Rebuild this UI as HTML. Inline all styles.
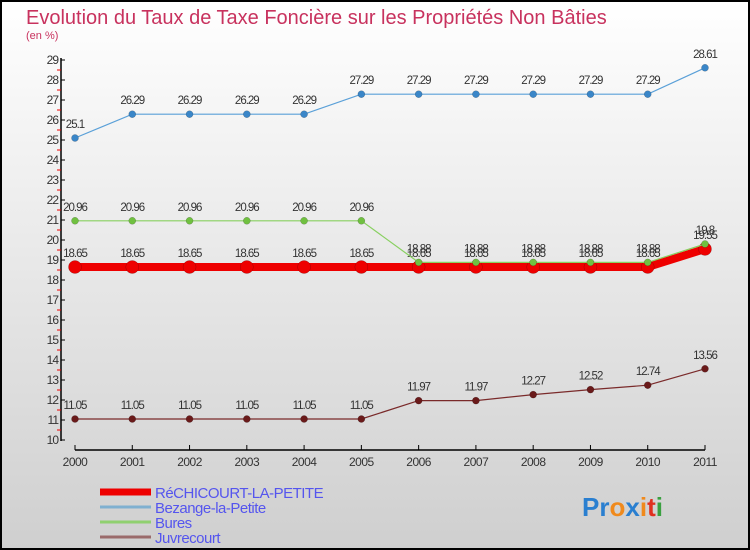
<!DOCTYPE html>
<html><head><meta charset="utf-8"><style>
body{margin:0;}
svg{display:block;font-family:"Liberation Sans",sans-serif;}
</style></head><body>
<svg id="c" width="750" height="550" xmlns="http://www.w3.org/2000/svg">
<defs><linearGradient id="bg" x1="0" y1="0" x2="0" y2="1"><stop offset="0" stop-color="#ffffff"/><stop offset="1" stop-color="#cfcfcf"/></linearGradient></defs>
<rect x="1" y="1" width="748" height="548" fill="url(#bg)" stroke="#000" stroke-width="2"/>
<text x="26" y="24" font-size="20" fill="#c8325e">Evolution du Taux de Taxe Foncière sur les Propriétés Non Bâties</text>
<text x="26" y="39" font-size="11" fill="#c8325e">(en %)</text>
<g id="axes"></g><g id="series"></g><g id="legend"></g>
<text x="582" y="516" font-size="26" font-weight="bold"><tspan fill="#2a7fd0">Pr</tspan><tspan fill="#f08a1c">o</tspan><tspan fill="#2a7fd0">x</tspan><tspan fill="#f08a1c">i</tspan><tspan fill="#e03020">t</tspan><tspan fill="#3aa040">i</tspan></text>
</svg>
<script>
const years=[2000,2001,2002,2003,2004,2005,2006,2007,2008,2009,2010,2011];
const reLabels=["18.65","18.65","18.65","18.65","18.65","18.65","18.65","18.65","18.65","18.65","18.65","19.55"];
const reVals=[18.65,18.65,18.65,18.65,18.65,18.65,18.65,18.65,18.65,18.65,18.65,19.55];
const bezVals=[25.1,26.29,26.29,26.29,26.29,27.29,27.29,27.29,27.29,27.29,27.29,28.61];
const buresVals=[20.96,20.96,20.96,20.96,20.96,20.96,18.88,18.88,18.88,18.88,18.88,19.8];
const juvVals=[11.05,11.05,11.05,11.05,11.05,11.05,11.97,11.97,12.27,12.52,12.74,13.56];
const yTicks=[10,11,12,13,14,15,16,17,18,19,20,21,22,23,24,25,26,27,28,29];
const seriesNames=["RéCHICOURT-LA-PETITE","Bezange-la-Petite","Bures","Juvrecourt"];
const NS="http://www.w3.org/2000/svg";
const X=i=>75+i*(630/11);
const Y=v=>60+(29-v)*20;
function mk(t,a,p){const e=document.createElementNS(NS,t);for(const k in a)e.setAttribute(k,a[k]);p.appendChild(e);return e;}
const ax=document.getElementById('axes');
let l=mk('line',{x1:61,y1:58,x2:61,y2:441,stroke:'#000','stroke-width':1.5},ax);


yTicks.forEach(v=>{
 mk('line',{x1:61,y1:Y(v),x2:65,y2:Y(v),stroke:'#000'},ax);
 if(v<29)mk('line',{x1:57,y1:Y(v+0.5),x2:61,y2:Y(v+0.5),stroke:'#e00'},ax);
 const t=mk('text',{x:58,y:Y(v)+4,'font-size':12,'text-anchor':'end',fill:'#333','letter-spacing':-1},ax);
 t.textContent=v;
 
 
});
l=mk('line',{x1:75,y1:450,x2:705,y2:450,stroke:'#000','stroke-width':1.5},ax);


years.forEach((y,i)=>{
 mk('line',{x1:X(i),y1:445,x2:X(i),y2:450,stroke:'#000'},ax);
 const t=mk('text',{x:X(i),y:466,'font-size':12,'text-anchor':'middle',fill:'#333','letter-spacing':-0.5},ax);
 t.textContent=y;
 
 
});
const sg=document.getElementById('series');
function draw(vals,labels,color,dot,lw,r,name){
 const g=mk('g',{},sg);
 
 
 mk('polyline',{points:vals.map((v,i)=>X(i)+','+Y(v)).join(' '),fill:'none',stroke:color,'stroke-width':lw},g);
 vals.forEach((v,i)=>{
  const c=mk('circle',{cx:X(i),cy:Y(v),r:r,fill:dot,stroke:'rgba(0,0,0,0.3)','stroke-width':0.5},g);
  
  
  const t=mk('text',{x:X(i),y:Y(v)-10,'font-size':11.5,'text-anchor':'middle',fill:'#333','letter-spacing':-1},g);
  t.textContent=labels?labels[i]:String(v);
  
  
 });
}
draw(bezVals,null,'#5aa0d8','#3a86c8',1.2,3.5,'bezange-series');
draw(juvVals,null,'#7a2a2a','#6a1a1a',1.2,3.5,'juvrecourt-series');
draw(reVals,reLabels,'#ee0000','#ee0000',8,6.5,'rechicourt-series');
draw(buresVals,null,'#88d060','#70c040',1.2,3.5,'bures-series');
const lg=document.getElementById('legend');
const lc=['#ee0000','#7fb0d0','#90d070','#9a6a6a'],lw=[7,3,3,3];
seriesNames.forEach((n,i)=>{
 const y=492+i*15;
 const g=mk('g',{},lg);
 
 
 mk('line',{x1:100,y1:y,x2:151,y2:y,stroke:lc[i],'stroke-width':lw[i]},g);
 const t=mk('text',{x:155,y:y+6,'font-size':15,fill:'#5555ee','letter-spacing':-0.5},g);
 t.textContent=n;
});
</script>
</body></html>
